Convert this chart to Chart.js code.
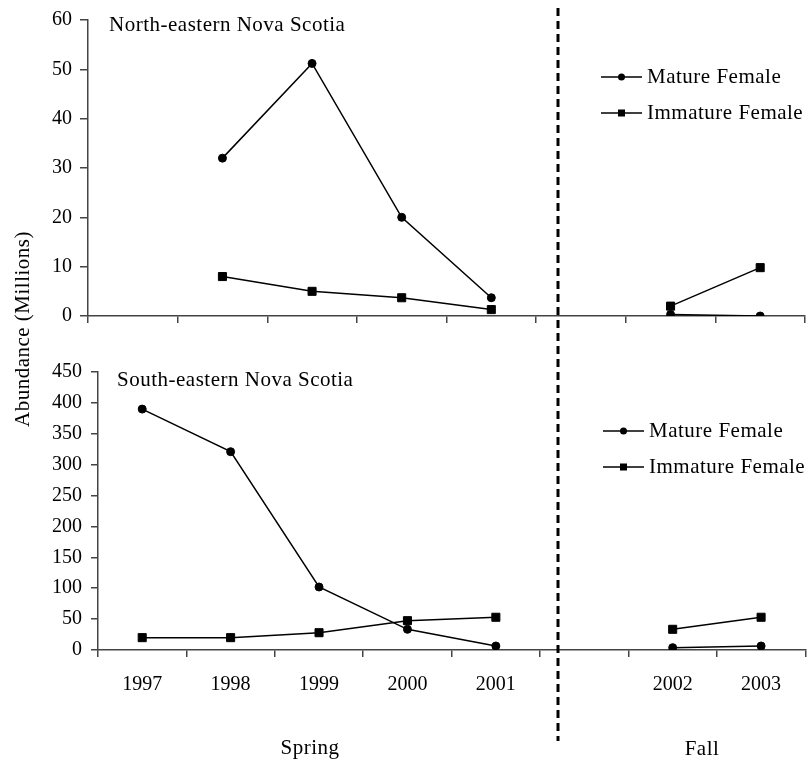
<!DOCTYPE html>
<html>
<head>
<meta charset="utf-8">
<script src="https://cdn.jsdelivr.net/npm/chart.js@4.4.0/dist/chart.umd.min.js"></script>
<style>
    html, body { margin: 0; padding: 0; background: #fff; }
    #wrap { position: relative; width: 812px; height: 767px; overflow: hidden; font-family: "Liberation Serif", "Times New Roman", serif; }
    canvas { position: absolute; left: 0; }
    #topChart { top: 0; }
    #bottomChart { top: 340px; }
    .label { position: absolute; font-size: 21px; letter-spacing: 0.5px; white-space: nowrap; color: #000; }
    #yTitle { left: 22px; top: 329px; transform: translate(-50%, -50%) rotate(-90deg); }
    #spring { left: 310px; top: 747px; transform: translate(-50%, -50%); }
    #fall { left: 702px; top: 748px; transform: translate(-50%, -50%); }
    #divider { position: absolute; left: 0; top: 0; }
</style>
</head>
<body>
<div id="wrap">
    <canvas id="topChart" width="812" height="340"></canvas>
    <canvas id="bottomChart" width="812" height="427"></canvas>
    <svg id="divider" width="812" height="767">
        <line x1="558" y1="8" x2="558" y2="741" stroke="#000" stroke-width="3" stroke-dasharray="8,5"></line>
    </svg>
    <div class="label" id="yTitle">Abundance (Millions)</div>
    <div class="label" id="spring">Spring</div>
    <div class="label" id="fall">Fall</div>
</div>
<script>
// categories (empty slot separates spring and fall surveys)
const years = ['1997', '1998', '1999', '2000', '2001', '', '2002', '2003'];
const seriesNames = ['Mature Female', 'Immature Female'];

// North-eastern Nova Scotia, millions
const northMature = [null, 32, 51.2, 20, 3.7, null, 0.3, 0];
const northImmature = [null, 8, 5, 3.7, 1.3, null, 2, 9.8];

// South-eastern Nova Scotia, millions
const southMature = [390, 321, 102, 33.5, 6.5, null, 3.8, 6.5];
const southImmature = [20, 20, 28, 47.5, 53, null, 33.5, 53];

const northMax = 60, northStep = 10;
const southMax = 450, southStep = 50;

const FONT = '"Liberation Serif", "Times New Roman", serif';
const AXIS = '#444';

// panel title + in-plot legend (line through marker, like the original)
const panelText = {
    id: 'panelText',
    afterDraw(chart, args, opts) {
        const ctx = chart.ctx;
        ctx.save();
        ctx.font = '21px ' + FONT;
        if ('letterSpacing' in ctx) ctx.letterSpacing = '0.5px';
        ctx.fillStyle = '#000';
        ctx.textAlign = 'left';
        ctx.textBaseline = 'middle';
        ctx.fillText(opts.title, opts.titleX, opts.titleY);

        chart.data.datasets.forEach((ds, i) => {
            const x0 = opts.legendX;
            const y = opts.legendY[i];
            ctx.strokeStyle = ds.borderColor;
            ctx.lineWidth = ds.borderWidth;
            ctx.beginPath();
            ctx.moveTo(x0, y);
            ctx.lineTo(x0 + 41, y);
            ctx.stroke();
            const cx = x0 + 20.5;
            ctx.beginPath();
            if (ds.pointStyle === 'rect') {
                ctx.rect(cx - 3.5, y - 3.5, 7, 7);
            } else {
                ctx.arc(cx, y, 3.5, 0, Math.PI * 2);
            }
            ctx.fill();
            ctx.fillText(ds.label, x0 + 46, y);
        });
        ctx.restore();
    }
};

function makeDatasets(mature, immature) {
    return [
        {
            label: seriesNames[0],
            data: mature,
            borderColor: '#000',
            backgroundColor: '#000',
            borderWidth: 1.5,
            pointStyle: 'circle',
            pointRadius: 4,
            pointBorderWidth: 1,
            spanGaps: false,
            tension: 0
        },
        {
            label: seriesNames[1],
            data: immature,
            borderColor: '#000',
            backgroundColor: '#000',
            borderWidth: 1.5,
            pointStyle: 'rect',
            pointRadius: 5.7,
            pointBorderWidth: 1,
            spanGaps: false,
            tension: 0
        }
    ];
}

function makeChart(canvasId, mature, immature, cfg) {
    return new Chart(document.getElementById(canvasId).getContext('2d'), {
        type: 'line',
        data: {
            labels: years,
            datasets: makeDatasets(mature, immature)
        },
        plugins: [panelText],
        options: {
            responsive: false,
            animation: false,
            events: [],
            layout: { padding: { left: 0, right: cfg.padRight, top: cfg.padTop, bottom: 0 } },
            plugins: {
                legend: { display: false },
                tooltip: { enabled: false },
                panelText: {
                    title: cfg.title,
                    titleX: cfg.titleX,
                    titleY: cfg.titleY,
                    legendX: cfg.legendX,
                    legendY: cfg.legendY
                }
            },
            scales: {
                x: {
                    offset: true,
                    grid: { offset: true, drawOnChartArea: false, tickLength: 7, color: AXIS, lineWidth: 1.5 },
                    border: { color: AXIS, width: 1.5 },
                    ticks: {
                        display: cfg.showYears,
                        color: '#000',
                        padding: 16,
                        maxRotation: 0,
                        autoSkip: false,
                        font: { family: FONT, size: 20 }
                    },
                    afterFit(scale) { scale.height = cfg.xHeight; }
                },
                y: {
                    min: 0,
                    max: cfg.max,
                    grid: { drawOnChartArea: false, tickLength: cfg.yTick, color: AXIS, lineWidth: 1.5 },
                    border: { color: AXIS, width: 1.5 },
                    ticks: {
                        stepSize: cfg.step,
                        padding: cfg.yPad,
                        color: '#000',
                        font: { family: FONT, size: 20 }
                    },
                    afterFit(scale) { scale.width = cfg.yWidth; }
                }
            }
        }
    });
}

makeChart('topChart', northMature, northImmature, {
    title: 'North-eastern Nova Scotia', titleX: 109, titleY: 25,
    legendX: 601, legendY: [77, 113],
    max: northMax, step: northStep,
    padTop: 15, padRight: 7,
    xHeight: 24, yWidth: 88, yTick: 8, yPad: 8,
    showYears: false
});

makeChart('bottomChart', southMature, southImmature, {
    title: 'South-eastern Nova Scotia', titleX: 117, titleY: 40,
    legendX: 603, legendY: [91, 127],
    max: southMax, step: southStep,
    padTop: 32, padRight: 5,
    xHeight: 117, yWidth: 98, yTick: 7, yPad: 9,
    showYears: true
});
</script>
</body>
</html>
